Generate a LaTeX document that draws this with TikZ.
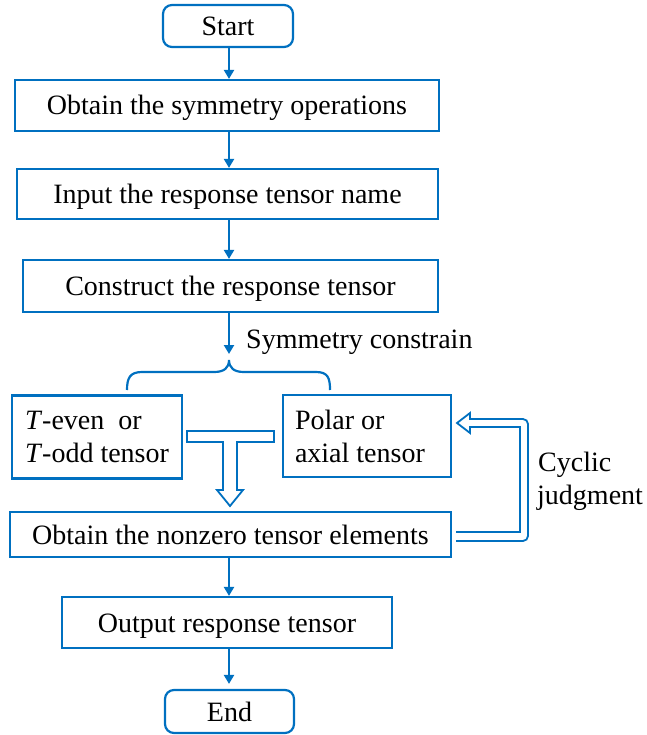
\documentclass[tikz,border=0pt]{standalone}
\usepackage{fontspec}
\setmainfont{Liberation Serif}
\usetikzlibrary{arrows.meta,calc}
\definecolor{fblue}{RGB}{0,112,192}
\begin{document}
\begin{tikzpicture}[x=1pt,y=-1pt,
  box/.style={draw=fblue,line width=2.2pt,inner sep=0pt,
    text height=19pt,text depth=0pt,
    font=\fontsize{28}{33}\selectfont},
  term/.style={box,rounded corners=9pt},
  lbox/.style={draw=fblue,line width=2.2pt,inner ysep=0pt,align=flush left,
    font=\fontsize{28}{33}\selectfont},
  arr/.style={draw=fblue,line width=2.2pt,-{Triangle[width=10pt,length=9pt]}},
  hollow/.style={draw=fblue,line width=1.8pt,fill=white,line join=miter},
  lbl/.style={font=\fontsize{28}{33}\selectfont,inner sep=0pt,anchor=base west}
]
\useasboundingbox (0,0) rectangle (646,735);

\node[term,minimum width=130pt,minimum height=42pt] (start) at (228,26) {Start};
\node[box,minimum width=424pt,minimum height=51pt] (ops) at (227,105.5) {Obtain the symmetry operations};
\node[box,minimum width=421pt,minimum height=50pt] (inp) at (227.5,194) {Input the response tensor name};
\node[box,minimum width=415pt,minimum height=52pt] (con) at (230.5,286) {Construct the response tensor};
\node[lbox,text width=156pt,inner xsep=7pt,minimum height=83pt] (teven) at (97,437)
  {\hspace*{6pt}\textit{T}-even\ \ or\\\hspace*{6pt}\textit{T}-odd tensor};
\node[lbox,text width=150pt,inner xsep=9pt,minimum height=82pt] (polar) at (367,436)
  {\hspace*{3pt}Polar or\\\hspace*{3pt}axial tensor};
\node[box,minimum width=441pt,minimum height=45pt] (nz) at (230.5,534.5) {Obtain the nonzero tensor elements};
\node[box,minimum width=330pt,minimum height=51pt] (out) at (227,622.5) {Output response tensor};
\node[term,minimum width=129pt,minimum height=43pt] (end) at (229.5,711.5) {End};

\draw[arr] (start.south -| 229,0) -- (ops.north -| 229,0);
\draw[arr] (ops.south -| 229,0) -- (inp.north -| 229,0);
\draw[arr] (inp.south -| 229,0) -- (con.north -| 229,0);
\coordinate (btip) at (229,360);
\draw[arr,shorten >=6pt] (con.south -| 229,0) -- (btip);
\draw[fblue,line width=2.2pt]
  (127,390) .. controls (127,378) and (130,372) .. (142,372) -- (214,372)
  .. controls (224,372) and (229,368) .. (btip)
  .. controls (229,368) and (234,372) .. (244,372) -- (316,372)
  .. controls (328,372) and (330,378) .. (330,390);
\node[lbl] (sc) at (246,348) {Symmetry constrain};

% T-shaped hollow arrow
\coordinate (ttip) at (230,506);
\draw[hollow] (187,431) -- (274,431) -- (274,442) -- (237,442) -- (237,490)
  -- (243,490) -- (ttip) -- (217,490) -- (223,490) -- (223,442) -- (187,442) -- cycle;

% cyclic hollow arrow
\coordinate (ctip) at (457,423);
\draw[hollow,fill=none] (456,532) -- (520,532) -- (520,427) -- (470,427) -- (470,433)
  -- (ctip) -- (470,413) -- (470,419) [rounded corners=5pt] -- (528,419) -- (528,541)
  [sharp corners] -- (456,541);
\node[lbl] (cy1) at (538,471) {Cyclic};
\node[lbl] (cy2) at (537,504) {judgment};

\draw[arr] (nz.south -| 229,0) -- (out.north -| 229,0);
\draw[arr,shorten >=5pt] (out.south -| 229,0) -- (end.north -| 229,0);
\end{tikzpicture}
\end{document}
